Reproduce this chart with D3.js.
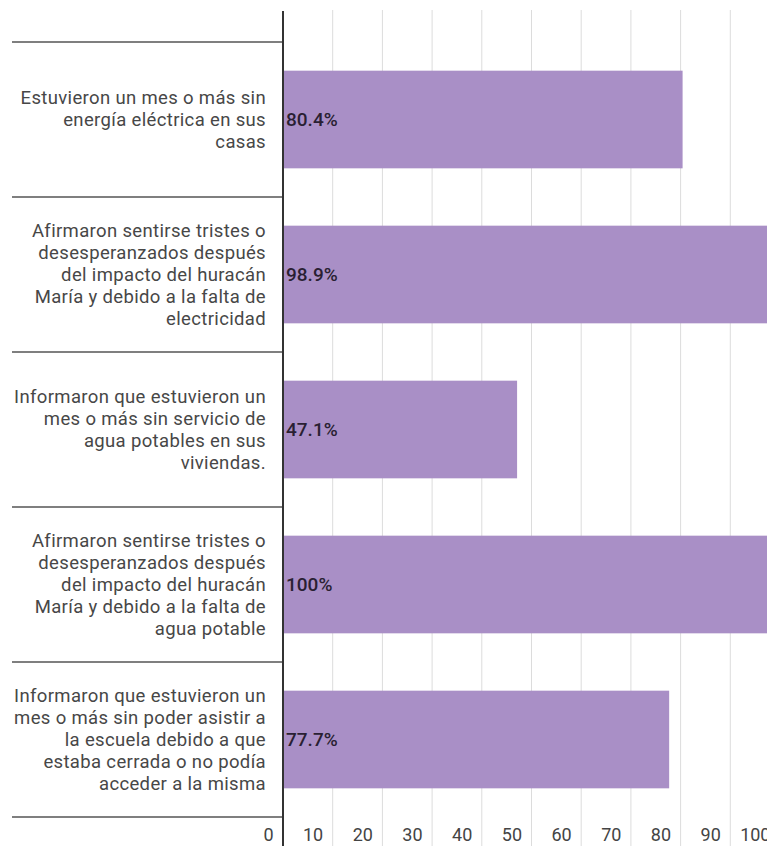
<!DOCTYPE html>
<html>
<head>
<meta charset="utf-8">
<script src="https://cdn.jsdelivr.net/npm/d3@7"></script>
<style>
  html, body { margin: 0; padding: 0; background: #fff; }
  svg { display: block; }
</style>
</head>
<body>
<svg id="chart" width="767" height="846"></svg>
<script>
const categories = [
  ["Estuvieron un mes o más sin", "energía eléctrica en sus", "casas"],
  ["Afirmaron sentirse tristes o", "desesperanzados después", "del impacto del huracán", "María y debido a la falta de", "electricidad"],
  ["Informaron que estuvieron un", "mes o más sin servicio de", "agua potables en sus", "viviendas."],
  ["Afirmaron sentirse tristes o", "desesperanzados después", "del impacto del huracán", "María y debido a la falta de", "agua potable"],
  ["Informaron que estuvieron un", "mes o más sin poder asistir a", "la escuela debido a que", "estaba cerrada o no podía", "acceder a la misma"]
];
const values = [80.4, 98.9, 47.1, 100, 77.7];
const valueLabels = ["80.4%", "98.9%", "47.1%", "100%", "77.7%"];
const tickValues = [0, 10, 20, 30, 40, 50, 60, 70, 80, 90, 100];

const W = 767, H = 846;
const svg = d3.select("#chart");
const font = "Roboto, 'Noto Sans', sans-serif";

const x = d3.scaleLinear().domain([0, 100]).range([283, 780]);
const idx = d3.range(categories.length);
const y = d3.scaleBand().domain(idx).range([42, 817]).paddingInner(0.37).paddingOuter(0.185);

// gridlines
svg.append("g").selectAll("line").data(tickValues.filter(d => d > 0)).join("line")
  .attr("x1", d => x(d)).attr("x2", d => x(d))
  .attr("y1", 10).attr("y2", H)
  .attr("stroke", "#dcdcdc").attr("stroke-width", 1);

// bars
svg.append("g").selectAll("rect").data(idx).join("rect")
  .attr("x", x(0))
  .attr("y", i => y(i))
  .attr("width", i => x(values[i]) - x(0))
  .attr("height", y.bandwidth())
  .attr("fill", "#a98fc6");

// separators
const step = y.step();
const sepY = idx.map(i => y(i) - step * y.paddingInner() / 2);
sepY.push(y(idx[idx.length - 1]) + y.bandwidth() + step * y.paddingInner() / 2);
svg.append("g").selectAll("line").data(sepY).join("line")
  .attr("x1", 12).attr("x2", x(0))
  .attr("y1", d => d).attr("y2", d => d)
  .attr("stroke", "#555").attr("stroke-width", 1.6);

// axis line
svg.append("line")
  .attr("x1", x(0)).attr("x2", x(0))
  .attr("y1", 11).attr("y2", H)
  .attr("stroke", "#333").attr("stroke-width", 2);

// category labels
const lh = 21.8;
const lab = svg.append("g").selectAll("text").data(idx).join("text")
  .attr("font-family", font).attr("font-size", 18.5).attr("fill", "#474747")
  .attr("letter-spacing", 0.35)
  .attr("text-anchor", "end");
lab.each(function(i) {
  const lines = categories[i];
  const cy = y(i) + y.bandwidth() / 2;
  const y0 = cy - (lines.length - 1) * lh / 2;
  d3.select(this).selectAll("tspan").data(lines).join("tspan")
    .attr("x", 266)
    .attr("y", (d, k) => y0 + k * lh)
    .attr("dy", "0.35em")
    .text(d => d);
});

// value labels
svg.append("g").selectAll("text").data(idx).join("text")
  .attr("x", x(0) + 3)
  .attr("y", i => y(i) + y.bandwidth() / 2)
  .attr("dy", "0.35em")
  .attr("font-family", font).attr("font-size", 19).attr("font-weight", 500)
  .attr("fill", "#2a1f33")
  .text(i => valueLabels[i]);

// tick labels
svg.append("g").selectAll("text").data(tickValues).join("text")
  .attr("x", d => x(d) - 9.5)
  .attr("y", 834.5)
  .attr("dy", "0.35em")
  .attr("text-anchor", "end")
  .attr("font-family", font).attr("font-size", 18).attr("fill", "#444")
  .text(d => d);
</script>
</body>
</html>
